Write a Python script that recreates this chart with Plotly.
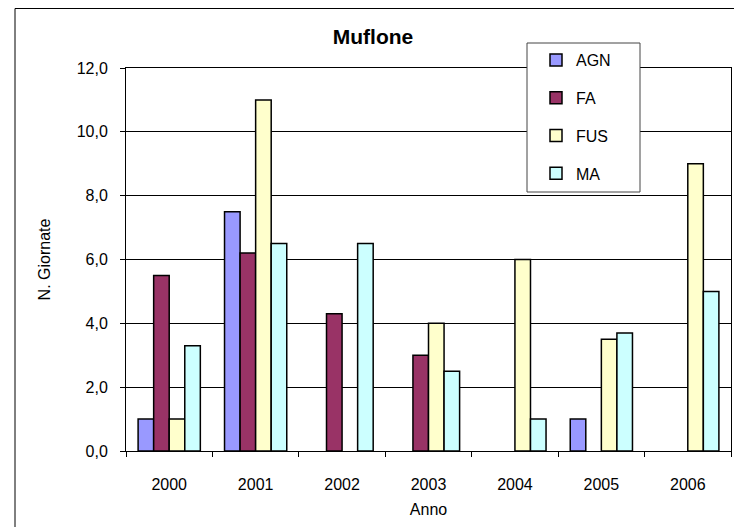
import plotly.graph_objects as go

years = ["2000", "2001", "2002", "2003", "2004", "2005", "2006"]
series_names = ["AGN", "FA", "FUS", "MA"]
agn = [1.0, 7.5, None, None, None, 1.0, None]
fa = [5.5, 6.2, 4.3, 3.0, None, None, None]
fus = [1.0, 11.0, None, 4.0, 6.0, 3.5, 9.0]
ma = [3.3, 6.5, 6.5, 2.5, 1.0, 3.7, 5.0]
colors = ["#9999FF", "#993366", "#FFFFCC", "#CCFFFF"]
y_ticks = [0, 2, 4, 6, 8, 10, 12]

OFF = 8  # page body margin
W, H = 742 - OFF, 527 - OFF
# screen-pixel layout targets
S_L, S_R, S_T, S_B = 126, 731, 68, 451
L, T = S_L - OFF, S_T - OFF
R, B = W - (S_R - OFF), H - (S_B - OFF)
pw, ph = W - L - R, H - T - B

fig = go.Figure()
for name, vals, col in zip(series_names, [agn, fa, fus, ma], colors):
    fig.add_trace(go.Bar(
        x=years, y=vals, name=name, legendgroup=name,
        marker=dict(color=col, line=dict(color="black", width=1.5)),
    ))

def px_x(sx):
    return (sx - S_L) / pw

def px_y(sy):
    return (S_B - sy) / ph

font = "Liberation Sans, Arial, sans-serif"
fig.update_layout(
    width=W, height=H,
    margin=dict(l=L, r=R, t=T, b=B),
    paper_bgcolor="white", plot_bgcolor="white",
    separators=",.",
    barmode="group", bargap=0.28, bargroupgap=0,
    font=dict(family=font, size=16, color="black"),
    title=dict(text="<b>Muflone</b>", x=(373 - OFF) / W, xanchor="center", xref="container",
               y=1 - (37 - OFF) / H, yanchor="middle", yref="container",
               font=dict(size=21, family=font, color="black")),
    showlegend=True,
    legend=dict(x=px_x(536), y=px_y(43), xanchor="left", yanchor="top",
                bgcolor="rgba(0,0,0,0)", borderwidth=0,
                font=dict(size=16, family=font), tracegroupgap=14,
                traceorder="grouped", itemwidth=30),
    xaxis=dict(type="category", showline=True, linecolor="black", linewidth=1,
               mirror=True, ticks="outside", tickson="boundaries", ticklen=5,
               tickcolor="black", showgrid=False, automargin=False,
               ticklabelstandoff=19,
               title=dict(text="Anno", standoff=11, font=dict(size=16))),
    yaxis=dict(range=[0, 12], tickvals=y_ticks, tickformat=".1f",
               showline=True, linecolor="black", linewidth=1, mirror=True,
               ticks="outside", ticklen=5, tickcolor="black", automargin=False,
               showgrid=True, gridcolor="black", gridwidth=1, zeroline=False,
               ticklabelstandoff=9,
               title=dict(text="N. Giornate", standoff=22, font=dict(size=16))),
    shapes=[
        dict(type="rect", xref="paper", yref="paper",
             x0=px_x(15), x1=px_x(760), y0=px_y(540), y1=px_y(OFF + 0.5),
             line=dict(color="black", width=1), fillcolor="rgba(0,0,0,0)",
             layer="below"),
        dict(type="rect", xref="paper", yref="paper",
             x0=px_x(527), x1=px_x(640), y0=px_y(192), y1=px_y(43),
             line=dict(color="#444", width=1), fillcolor="white",
             layer="above"),
    ],
)

fig.write_html("out.html")
